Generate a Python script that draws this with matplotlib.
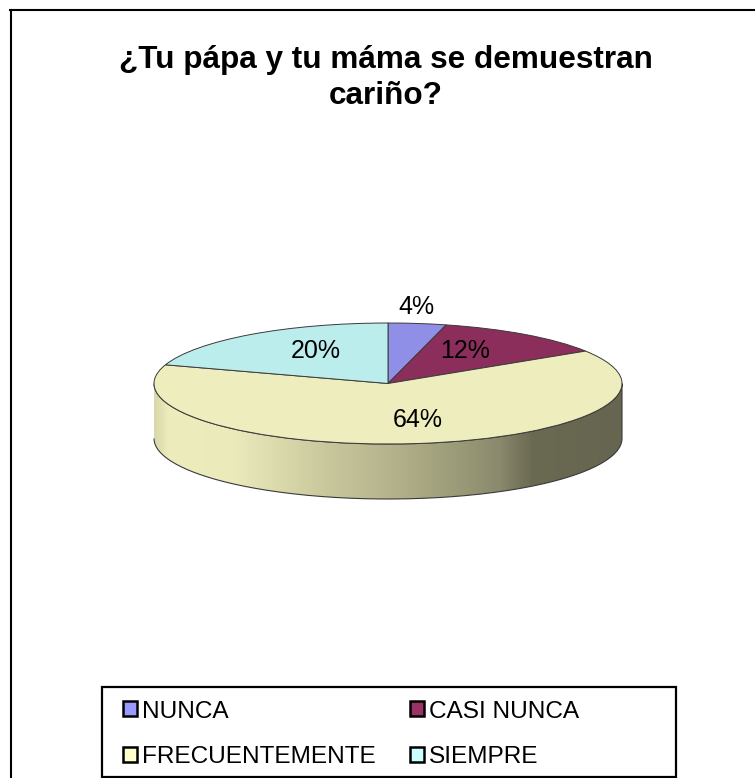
import matplotlib
matplotlib.use("Agg")
import matplotlib.pyplot as plt
import numpy as np
from matplotlib.colors import LinearSegmentedColormap
from matplotlib.lines import Line2D
from matplotlib.patches import Patch, PathPatch, Rectangle
from matplotlib.path import Path

plt.rcParams["font.family"] = ["Liberation Sans", "DejaVu Sans"]

W, H = 755, 778

categories = ["NUNCA", "CASI NUNCA", "FRECUENTEMENTE", "SIEMPRE"]
values = [4, 12, 64, 20]
pie_colors = ["#8F8FE8", "#8C2E5C", "#EEEDBE", "#BBEDEC"]
legend_colors = ["#9999FF", "#993366", "#FFFFCC", "#CCFFFF"]
title = "¿Tu pápa y tu máma se demuestran\ncariño?"

# label centres in pixels, they are not regular in the original
label_px = [(416, 307), (465, 351), (418, 420), (316, 351)]

# shading of the side wall, left to right
wall_stops = [0.0, 0.03, 0.17, 0.38, 0.50, 0.63, 0.74, 0.81, 1.0]
wall_colors = ["#D9D8AC", "#EDECBD", "#EBEABB", "#C7C69B", "#B5B48D",
               "#9F9E7B", "#8A896C", "#6A6952", "#66654F"]

# pie ellipse in pixels
cx, cy, rx, ry, depth = 388, 383.5, 234, 60.5, 55


def fx(x):
    return x / W


def fy(y):
    return 1 - y / H


fig = plt.figure(figsize=(W / 100, H / 100), dpi=100)
ax = fig.add_axes([0, 0, 1, 1])

wedges, _ = ax.pie(values, colors=pie_colors, startangle=90, counterclock=False,
                   wedgeprops={"edgecolor": "#3A3A3A", "linewidth": 0.7, "zorder": 3})
ax.set_aspect("auto")
ax.axis("off")

# side wall below the front half of the pie
t = np.linspace(np.pi, 2 * np.pi, 200)
d = depth / ry
wall_x = np.concatenate([np.cos(t), np.cos(t[::-1])])
wall_y = np.concatenate([np.sin(t) - d, np.sin(t[::-1])])
wall = Path(np.column_stack([wall_x, wall_y]))
cmap = LinearSegmentedColormap.from_list("wall", list(zip(wall_stops, wall_colors)))
img = ax.imshow(np.linspace(0, 1, 512)[None, :], cmap=cmap, aspect="auto",
                extent=(-1, 1, -1 - d, 0), zorder=1)
outline = PathPatch(wall, facecolor="none", edgecolor="#3A3A3A", linewidth=0.8, zorder=2)
ax.add_patch(outline)
img.set_clip_path(outline)
ax.set_xlim(-cx / rx, (W - cx) / rx)
ax.set_ylim(-(H - cy) / ry, cy / ry)

for v, (px, py) in zip(values, label_px):
    fig.text(fx(px), fy(py), f"{v}%", fontsize=18, ha="center", va="center", color="black")

fig.text(fx(386), fy(78), title, fontsize=22.7, fontweight="bold", ha="center", va="center",
         linespacing=1.26, color="black")

# outer frame, cut off on the right and at the bottom
fig.add_artist(Line2D([fx(11), fx(11)], [fy(10), 0], color="black", linewidth=1.5))
fig.add_artist(Line2D([fx(10), 1], [fy(10), fy(10)], color="black", linewidth=1.5))

# legend box
fig.add_artist(Rectangle((fx(102), fy(776.5)), (675.5 - 102) / W, (776.5 - 686.5) / H,
                         transform=fig.transFigure, facecolor="white", edgecolor="black",
                         linewidth=1.6))
handles = [Patch(facecolor=c, edgecolor="black", linewidth=1.8) for c in legend_colors]
# legend fills by column, the original reads by row
order = [0, 2, 1, 3]
fig.legend([handles[i] for i in order], [categories[i] for i in order], ncol=2,
           loc="upper left", frameon=False,
           bbox_to_anchor=(fx(123), fy(700.5)), borderaxespad=0, borderpad=0,
           fontsize=17.6, handlelength=0.58, handleheight=0.58, handletextpad=0.2,
           columnspacing=1.4, labelspacing=0.97)

fig.savefig("out.png", dpi=100)
